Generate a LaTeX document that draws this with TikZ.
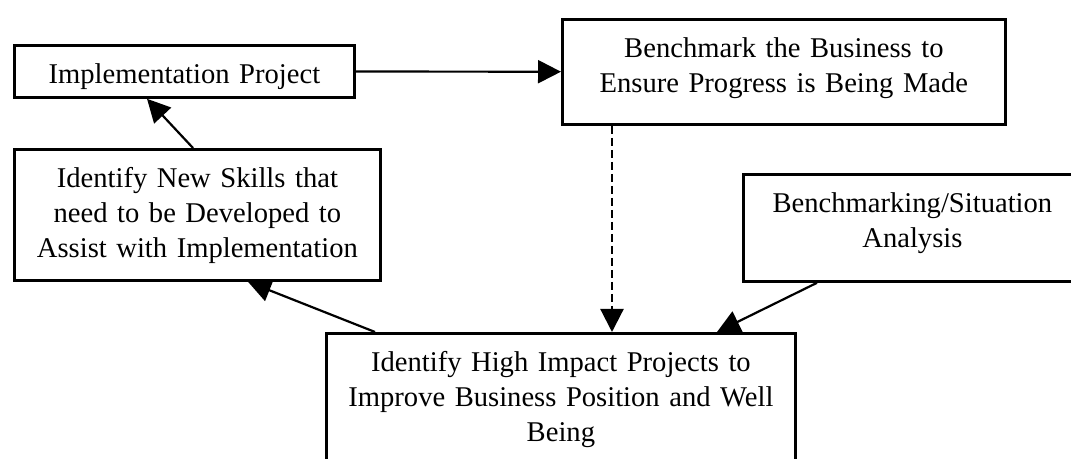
\documentclass[tikz,border=0pt]{standalone}
\usepackage{fontspec}
\setmainfont{Liberation Serif}
\usepackage{tikz}
\usetikzlibrary{arrows.meta, positioning}

\begin{document}
\begin{tikzpicture}[x=0.5pt,y=-0.5pt,>={Triangle[length=11.5pt,width=11.5pt]},
        box/.style={draw,line width=1.4pt,anchor=north west,inner xsep=0pt,inner ysep=0pt,
          align=center,font=\fontsize{14.3}{17.5}\selectfont,text height=19pt},
        arr/.style={->,line width=1.1pt}]

  \useasboundingbox (0,0) rectangle (1071,459);

  \node[box,text width=170pt,text depth=7pt]     (impl)   at (13,44)  {Implementation Project};
  \node[box,text width=221.5pt,text depth=33.5pt] (bench) at (561,18) {Benchmark the Business to\\Ensure Progress is Being Made};
  \node[box,text width=183pt,text depth=46.5pt]  (skills) at (13,148) {Identify New Skills that\\need to be Developed to\\Assist with Implementation};
  \node[box,text width=169pt,text depth=34.5pt]  (sit)    at (742,173) {Benchmarking/Situation\\Analysis};
  \node[box,text width=234.5pt,text depth=51pt]  (high)   at (325,332) {Identify High Impact Projects to\\Improve Business Position and Well\\Being};

  \draw[arr] (impl) -- (bench);
  \draw[arr] ([xshift=90pt]skills.north west) -- ([xshift=67pt]impl.south west);
  \draw[arr] ([xshift=25pt]high.north west) -- ([xshift=117.5pt]skills.south west);
  \draw[arr] ([xshift=37.5pt]sit.south west) -- ([xshift=196pt]high.north west);
  \draw[arr,dash pattern=on 4pt off 2pt] ([xshift=25.5pt]bench.south west) -- ([xshift=143.5pt]high.north west);
\end{tikzpicture}
\end{document}
